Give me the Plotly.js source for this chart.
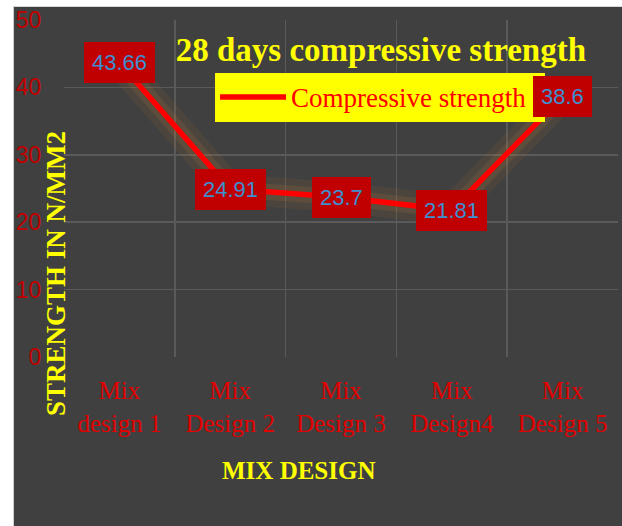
<!DOCTYPE html>
<html>
<head>
<meta charset="utf-8">
<script src="https://cdn.plot.ly/plotly-3.0.1.min.js"></script>
<style>
  html, body { margin: 0; padding: 0; background: #ffffff; width: 622px; height: 526px; overflow: hidden; }
  #chart { position: absolute; left: 13px; top: 6px; width: 608px; height: 519px;
           border-left: 1px solid #cfcfcf; border-top: 1px solid #d8d8d8; }
</style>
</head>
<body>
<div id="chart"></div>
<script>
const categories = ['Mix<br>design 1', 'Mix<br>Design 2', 'Mix<br>Design 3', 'Mix<br>Design4', 'Mix<br>Design 5'];
const strength = [43.66, 24.91, 23.7, 21.81, 38.6];
const valueLabels = ['43.66', '24.91', '23.7', '21.81', '38.6'];
const seriesName = 'Compressive strength';
const yTicks = [0, 10, 20, 30, 40, 50];

const serif = '"Liberation Serif", "Times New Roman", serif';
const sans = '"Liberation Sans", Arial, sans-serif';

const glow = {
  x: categories, y: strength, type: 'scatter', mode: 'lines',
  line: { color: 'rgba(190,120,50,0.10)', width: 30 },
  hoverinfo: 'skip', showlegend: false
};
const glow2 = {
  x: categories, y: strength, type: 'scatter', mode: 'lines',
  line: { color: 'rgba(200,125,50,0.14)', width: 16 },
  hoverinfo: 'skip', showlegend: false
};
const main = {
  x: categories, y: strength, type: 'scatter', mode: 'lines',
  name: seriesName + '\u00a0\u00a0',
  line: { color: '#ff0000', width: 5.5 }
};

const annotations = categories.map((c, i) => ({
  x: c, y: strength[i], xref: 'x', yref: 'y',
  text: valueLabels[i], showarrow: false,
  font: { family: sans, size: 22, color: '#3d8fd0' },
  bgcolor: '#c00000', borderpad: 8, borderwidth: 0
}));

annotations.push({
  xref: 'paper', yref: 'paper', x: 0, y: 0.246, xshift: -8,
  xanchor: 'center', yanchor: 'middle', textangle: -90,
  text: '<b>STRENGTH IN N/MM2</b>', showarrow: false,
  font: { family: serif, size: 27, color: '#ffff00' }
});
annotations.push({
  xref: 'paper', yref: 'paper', x: 0.424, y: 0, yshift: -113,
  xanchor: 'center', yanchor: 'middle',
  text: '<b>MIX DESIGN</b>', showarrow: false,
  font: { family: serif, size: 25, color: '#ffff00' }
});

const layout = {
  width: 608, height: 519,
  paper_bgcolor: '#404040', plot_bgcolor: '#404040',
  margin: { l: 50, r: 4, t: 13, b: 169 },
  title: {
    text: '<b>28 days compressive strength</b>',
    xref: 'paper', yref: 'paper', x: 0.572, y: 0.914,
    xanchor: 'center', yanchor: 'middle',
    font: { family: serif, size: 33, color: '#ffff00' }
  },
  showlegend: true,
  legend: {
    x: 0.2726, y: 0.843, xanchor: 'left', yanchor: 'top',
    bgcolor: '#ffff00', borderwidth: 0,
    font: { family: serif, size: 27, color: '#ff0000' },
    itemwidth: 66
  },
  xaxis: {
    type: 'category', range: [-0.5, 4.5], tickson: 'boundaries',
    showgrid: true, gridcolor: '#5a5a5a', gridwidth: 1.5,
    zeroline: false, showline: false,
    ticks: '', ticklabelstandoff: 16,
    tickfont: { family: serif, size: 25, color: '#e00000' },
    fixedrange: true
  },
  yaxis: {
    range: [0, 50], tickvals: yTicks,
    showgrid: true, gridcolor: '#5a5a5a', gridwidth: 1.5,
    zeroline: false, showline: false,
    ticks: 'outside', ticklen: 17, tickcolor: 'rgba(0,0,0,0)',
    tickfont: { family: sans, size: 23, color: '#c00000' },
    fixedrange: true
  },
  annotations: annotations
};

Plotly.newPlot('chart', [glow, glow2, main], layout, { displayModeBar: false, staticPlot: true });
</script>
</body>
</html>
